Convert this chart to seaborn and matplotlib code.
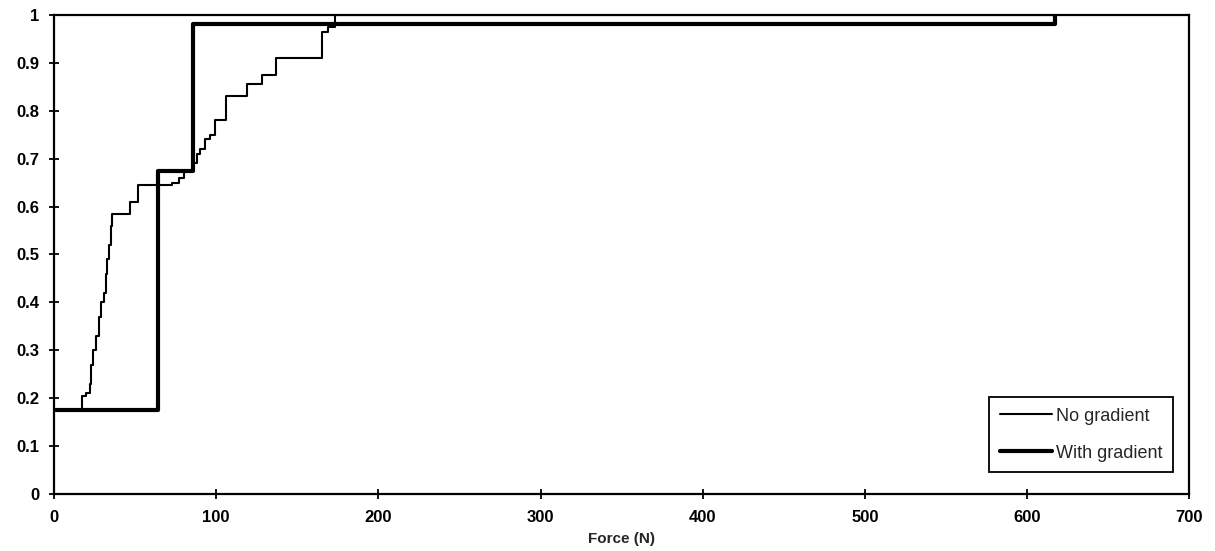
import numpy as np
import pandas as pd
import matplotlib
matplotlib.use("Agg")
import matplotlib.pyplot as plt
import seaborn as sns
from matplotlib.ticker import FuncFormatter

# cumulative fraction vs force
no_grad_force = [0, 17, 20, 22, 23, 24, 26, 28, 29, 31, 32, 33, 34, 35, 36, 47, 52,
                 73, 77, 80, 86, 88, 90, 93, 96, 99, 106, 119, 128, 137, 165, 169, 173, 617]
no_grad_frac = [0.175, 0.205, 0.21, 0.23, 0.27, 0.30, 0.33, 0.37, 0.40, 0.42, 0.46, 0.49,
                0.52, 0.56, 0.585, 0.61, 0.645, 0.65, 0.66, 0.675, 0.69, 0.71, 0.72, 0.74,
                0.75, 0.78, 0.83, 0.855, 0.875, 0.91, 0.965, 0.975, 1.0, 1.0]

with_grad_force = [0, 64, 86, 617]
with_grad_frac = [0.175, 0.675, 0.98, 1.0]

sns.set_style("ticks")
plt.rcParams['font.family'] = ['Liberation Sans', 'DejaVu Sans']

df_no = pd.DataFrame({"force": no_grad_force, "frac": no_grad_frac})
df_with = pd.DataFrame({"force": with_grad_force, "frac": with_grad_frac})

fig = plt.figure(figsize=(12.15, 5.51), dpi=100)
ax = fig.add_axes([0.0444, 0.1034, 0.9346, 0.8696])

sns.lineplot(data=df_no, x="force", y="frac", ax=ax, color="black", linewidth=1.5,
             drawstyle="steps-post", label="No gradient")
sns.lineplot(data=df_with, x="force", y="frac", ax=ax, color="black", linewidth=3,
             drawstyle="steps-post", label="With gradient")

ax.set_xlim(0, 700)
ax.set_ylim(0, 1)
ax.set_xticks(np.arange(0, 701, 100))
ax.set_yticks(np.arange(0, 1.01, 0.1))
ax.yaxis.set_major_formatter(FuncFormatter(lambda v, p: f"{v:g}"))
ax.set_xlabel("Force (N)", fontsize=11, fontweight="bold", labelpad=5)
ax.set_ylabel("")
ax.tick_params(direction="inout", length=7, width=1.3, labelsize=12, colors="black")
ax.tick_params(axis="x", pad=8)
ax.tick_params(axis="y", pad=7)
for lab in ax.get_xticklabels() + ax.get_yticklabels():
    lab.set_fontweight("bold")

for s in ax.spines.values():
    s.set_visible(True)
    s.set_color("black")
    s.set_linewidth(1.6)

leg = ax.legend(loc="lower right", bbox_to_anchor=(0.9855, 0.045), fontsize=13,
                frameon=True, fancybox=False, edgecolor="black", framealpha=1,
                handlelength=2.9, handletextpad=0.2, borderpad=0.6, labelspacing=1.1,
                borderaxespad=0)
leg.get_frame().set_linewidth(1.3)

fig.savefig("out.png", dpi=100)
